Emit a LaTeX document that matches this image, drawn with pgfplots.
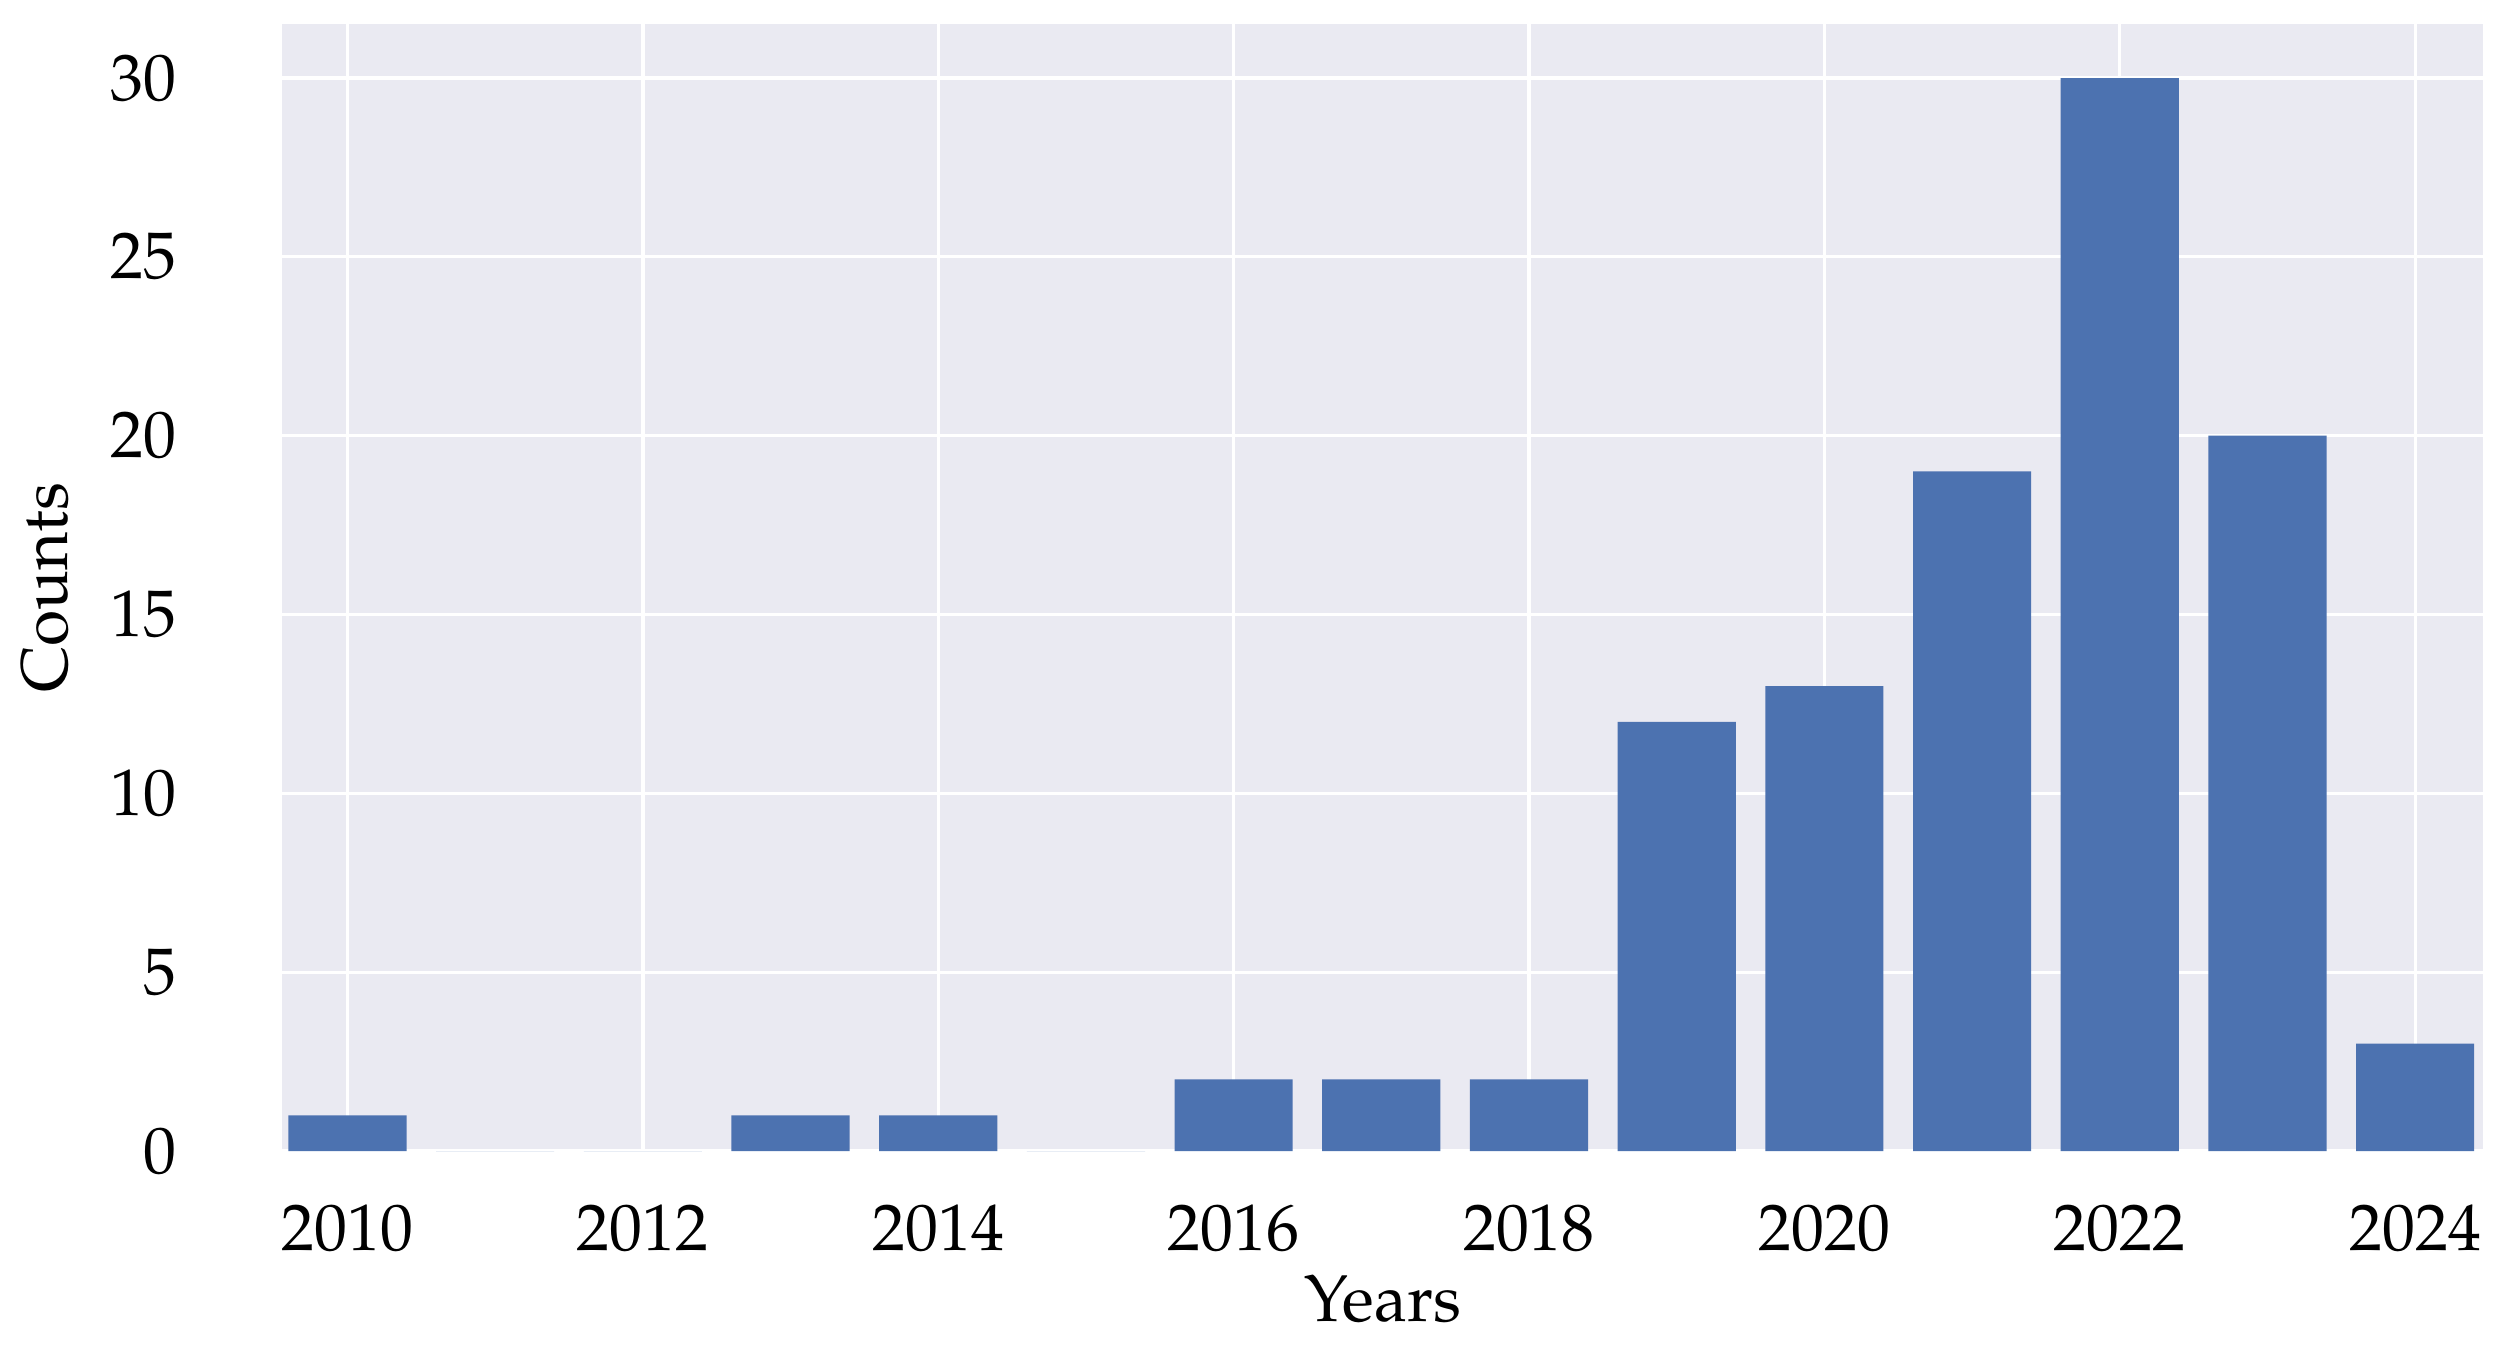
\documentclass[border=0pt]{standalone}
\usepackage[T1]{fontenc}
\usepackage{mathpazo}
\usepackage{pgfplots}
\pgfplotsset{compat=1.18}
\definecolor{sbblue}{HTML}{4C72B0}
\definecolor{sbbg}{HTML}{EAEAF2}
\begin{document}
\begin{tikzpicture}
\begin{axis}[
  scale only axis,
  width=334pt, height=171pt,
  xmin=2009.56, xmax=2024.46,
  ymin=0, ymax=31.5,
  xtick={2010,2012,...,2024},
  ytick={0,5,...,30},
  xticklabel style={/pgf/number format/1000 sep={}, yshift=-4.6pt},
  yticklabel style={xshift=-12.5pt},
  /pgf/number format/assume math mode=true,
  major tick length=0pt,
  axis line style={draw=none},
  axis background/.style={fill=sbbg},
  grid=major,
  major grid style={white, line width=0.5pt},
  xlabel={Years}, ylabel={Counts},
  xlabel style={yshift=3.2pt},
  ylabel style={yshift=-0.5pt},
  ybar, bar shift=0pt, bar width=0.8,
]
\addplot[fill=sbblue, draw=none] coordinates {
  (2010,1) (2011,0) (2012,0) (2013,1) (2014,1) (2015,0) (2016,2)
  (2017,2) (2018,2) (2019,12) (2020,13) (2021,19) (2022,30) (2023,20) (2024,3)
};
\end{axis}
\path ([yshift=3.7pt]current axis.north);
\path ([xshift=1pt]current axis.east);
\end{tikzpicture}
\end{document}
